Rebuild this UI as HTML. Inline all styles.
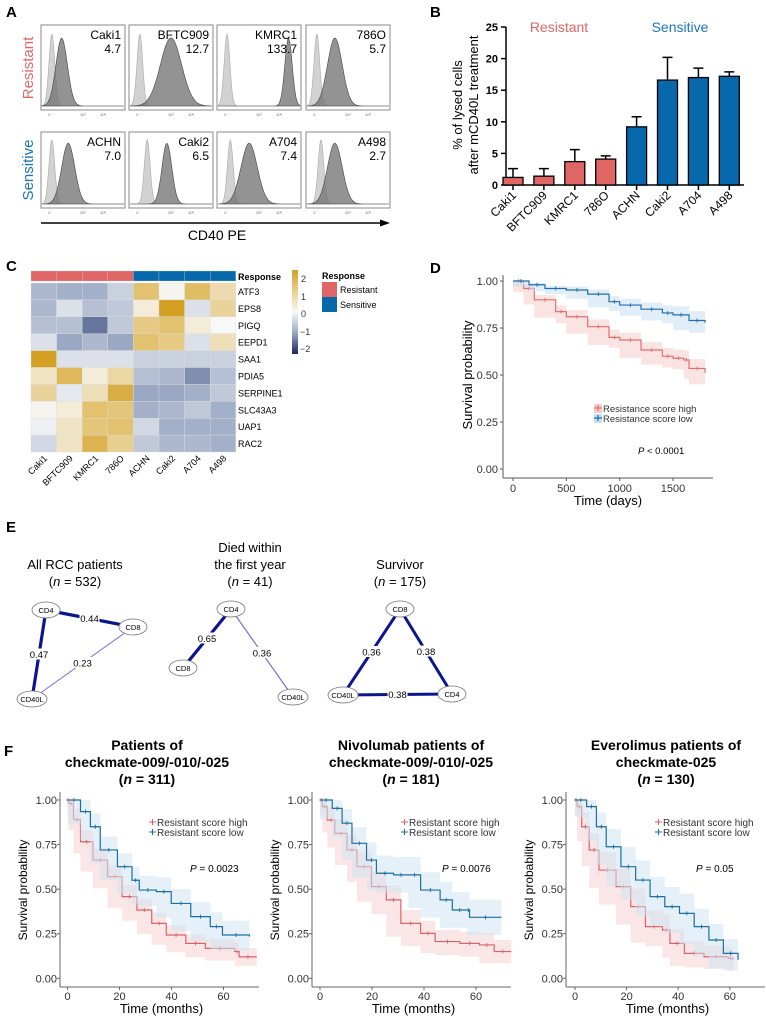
<!DOCTYPE html>
<html><head><meta charset="utf-8"><style>
html,body{margin:0;padding:0;background:#fff;}
svg{display:block;font-family:"Liberation Sans",Arial,sans-serif;}
.nar{font-family:"Liberation Sans Narrow","Liberation Sans",sans-serif;}
</style></head><body>
<svg id="fig" width="766" height="1017" viewBox="0 0 766 1017" xmlns="http://www.w3.org/2000/svg">
<defs>
<linearGradient id="cbar" x1="0" y1="0" x2="0" y2="1">
<stop offset="0" stop-color="#d4a024"/><stop offset="0.25" stop-color="#e8cf8f"/><stop offset="0.5" stop-color="#f8f8f8"/><stop offset="0.75" stop-color="#9aa8c4"/><stop offset="1" stop-color="#17285e"/>
</linearGradient>
</defs>
<!-- panel labels -->
<text x="6" y="17" font-size="15" font-weight="bold">A</text>
<text x="430" y="17" font-size="15" font-weight="bold">B</text>
<text x="6" y="271" font-size="15" font-weight="bold">C</text>
<text x="430" y="273" font-size="15" font-weight="bold">D</text>
<text x="6" y="532" font-size="15" font-weight="bold">E</text>
<text x="4" y="756" font-size="15" font-weight="bold">F</text>

<!-- Panel A static -->
<g id="panelA"></g>
<text transform="translate(33,68) rotate(-90)" text-anchor="middle" font-size="15" fill="#e06666">Resistant</text>
<text transform="translate(33,170) rotate(-90)" text-anchor="middle" font-size="15" fill="#1a75bc">Sensitive</text>
<line x1="41" y1="223" x2="383" y2="223" stroke="#000" stroke-width="1.5"/>
<polygon points="390,223 380,219.5 380,226.5" fill="#000"/>
<text x="217" y="240" text-anchor="middle" font-size="14">CD40 PE</text>

<!-- Panel B static -->
<g id="panelB"></g>
<text transform="translate(462,105) rotate(-90)" text-anchor="middle" font-size="13">% of lysed cells</text>
<text transform="translate(478,105) rotate(-90)" text-anchor="middle" font-size="13">after mCD40L treatment</text>
<text x="559" y="32" text-anchor="middle" font-size="14" fill="#e06666">Resistant</text>
<text x="680" y="32" text-anchor="middle" font-size="14" fill="#1a75bc">Sensitive</text>

<!-- Panel C -->
<g id="panelC"></g>
<text x="238" y="280" font-size="9" font-weight="bold">Response</text>
<rect x="292" y="270" width="6" height="84" fill="url(#cbar)"/>
<g font-size="9" fill="#333">
<text x="301" y="282">2</text><text x="301" y="300">1</text><text x="301" y="317">0</text><text x="300" y="335">−1</text><text x="300" y="352">−2</text>
</g>
<text x="322" y="279" font-size="9" font-weight="bold">Response</text>
<rect x="322" y="282" width="15" height="15" fill="#e06666"/>
<rect x="322" y="297" width="15" height="15" fill="#0868ac"/>
<text x="340" y="293" font-size="9">Resistant</text>
<text x="340" y="308" font-size="9">Sensitive</text>

<!-- Panel D -->
<g id="panelD"></g>

<!-- Panel E -->
<g id="panelE" font-size="13">
<text x="75" y="569" text-anchor="middle">All RCC patients</text>
<text x="75" y="586" text-anchor="middle">(<tspan font-style="italic">n</tspan> = 532)</text>
<text x="250" y="552" text-anchor="middle">Died within</text>
<text x="250" y="569" text-anchor="middle">the first year</text>
<text x="250" y="586" text-anchor="middle">(<tspan font-style="italic">n</tspan> =  41)</text>
<text x="400" y="569" text-anchor="middle">Survivor</text>
<text x="400" y="586" text-anchor="middle">(<tspan font-style="italic">n</tspan> = 175)</text>
</g>

<!-- Panel F -->
<g id="panelF"></g>
</svg>
<script>
const NS='http://www.w3.org/2000/svg';
function mk(tag,attrs,parent){const e=document.createElementNS(NS,tag);for(const k in attrs)e.setAttribute(k,attrs[k]);(parent||document.getElementById('fig')).appendChild(e);return e;}

/* ---------- Panel A data ---------- */
const aLines=['Caki1','BFTC909','KMRC1','786O','ACHN','Caki2','A704','A498'];
const aValues=['4.7','12.7','133.7','5.7','7.0','6.5','7.4','2.7'];
const aIsoPeak=[0.12,0.12,0.11,0.12,0.12,0.21,0.15,0.17];
const aStainPeak=[0.24,0.50,0.86,0.34,0.32,0.45,0.38,0.34];
const aStainWidth=[0.07,0.13,0.045,0.09,0.08,0.06,0.10,0.09];
(function(){
 const g=document.getElementById('panelA');
 const xs=[41,129,217,306], rows=[[25,85],[132,76]], w=84;
 for(let i=0;i<8;i++){
  const bx=xs[i%4], by=rows[Math.floor(i/4)][0], bh=rows[Math.floor(i/4)][1];
  const base=by+bh-4;
  const box=mk('rect',{x:bx,y:by,width:w,height:bh,fill:'#fff',stroke:'#888','stroke-width':1},g);
  
  
  function curve(c,s,hfrac){let d='M'+(bx+1)+','+base;for(let k=0;k<=80;k++){const f=k/80;const v=Math.exp(-Math.pow((f-c)/s,2)/2);d+=' L'+(bx+1+f*(w-2)).toFixed(1)+','+(base-v*bh*hfrac).toFixed(1);}return d+' L'+(bx+w-1)+','+base+' Z';}
  const iso=mk('path',{d:curve(aIsoPeak[i],0.035,0.85),fill:'#d2d2d2',stroke:'#aaa','stroke-width':0.6},g);
  
  
  const st=mk('path',{d:curve(aStainPeak[i],aStainWidth[i],0.8),fill:'#6f6f6f','fill-opacity':0.75,stroke:'#444','stroke-width':0.6},g);
  
  
  const t1=mk('text',{x:bx+w-4,y:by+14,'text-anchor':'end','font-size':12},g);t1.textContent=aLines[i];
  
  
  const t2=mk('text',{x:bx+w-4,y:by+28,'text-anchor':'end','font-size':12},g);t2.textContent=aValues[i];
  
  
  [['0',0.1],['10⁴',0.5],['10⁵',0.74]].forEach(function(p){const tt=mk('text',{x:bx+p[1]*w,y:by+bh+6,'font-size':4,fill:'#666','text-anchor':'middle'},g);tt.textContent=p[0];
   
   });
 }
})();

/* ---------- Panel B data ---------- */
const bCats=['Caki1','BFTC909','KMRC1','786O','ACHN','Caki2','A704','A498'];
const bMeans=[1.2,1.4,3.7,4.1,9.2,16.6,17.0,17.2];
const bErrTop=[2.6,2.6,5.6,4.6,10.8,20.2,18.5,17.9];
const bGroup=['R','R','R','R','S','S','S','S'];
const bTicks=[0,5,10,15,20,25];
(function(){
 const g=document.getElementById('panelB');
 const y=v=>185-v*(158/25);
 const xc=i=>513+i*30.9;
 mk('line',{x1:506,y1:y(25),x2:506,y2:186,stroke:'#000','stroke-width':1.5},g);
 mk('line',{x1:505,y1:185,x2:744,y2:185,stroke:'#000','stroke-width':1.5},g);
 bTicks.forEach(function(t){mk('line',{x1:501,y1:y(t),x2:506,y2:y(t),stroke:'#000','stroke-width':1.5},g);
  const tx=mk('text',{x:498,y:y(t)+4,'text-anchor':'end','font-size':11,'font-weight':'bold'},g);tx.textContent=t;
  
  });
 bCats.forEach(function(c,i){
  const col=bGroup[i]==='R'?'#e06666':'#0868ac';
  const eb=mk('path',{d:'M'+xc(i)+','+y(bMeans[i])+' V'+y(bErrTop[i])+' M'+(xc(i)-5)+','+y(bErrTop[i])+' H'+(xc(i)+5),stroke:'#000','stroke-width':1.5,fill:'none'},g);
  
  
  const r=mk('rect',{x:xc(i)-10,y:y(bMeans[i]),width:20,height:185-y(bMeans[i]),fill:col,stroke:'#000','stroke-width':1.3},g);
  
  
  mk('line',{x1:xc(i),y1:185,x2:xc(i),y2:190,stroke:'#000','stroke-width':1.5},g);
  const t=mk('text',{transform:'translate('+(xc(i)+4)+',196) rotate(-45)','text-anchor':'end','font-size':12},g);t.textContent=c;
  
  
 });
})();

/* ---------- Panel C data ---------- */
const cCols=['Caki1','BFTC909','KMRC1','786O','ACHN','Caki2','A704','A498'];
const cGroups=['R','R','R','R','S','S','S','S'];
const cGenes=['ATF3','EPS8','PIGQ','EEPD1','SAA1','PDIA5','SERPINE1','SLC43A3','UAP1','RAC2'];
const cRow0=[-0.8,-0.9,-0.9,-0.5,1.3,0.1,1.4,0.7];
const cRow1=[-0.8,-0.3,-0.7,-0.6,0.3,2.0,-0.3,0.9];
const cRow2=[-0.7,-0.7,-1.4,-0.6,1.1,1.3,0.3,0.0];
const cRow3=[-0.3,-1.0,-0.8,-1.0,1.3,1.1,-0.3,0.6];
const cRow4=[2.2,-0.3,-0.3,-0.3,-0.5,-0.5,-0.5,-0.5];
const cRow5=[0.5,1.5,0.3,0.8,-0.7,-0.8,-1.2,-0.7];
const cRow6=[0.9,-0.2,0.6,1.7,-1.0,-1.0,-0.9,-0.6];
const cRow7=[0.1,0.3,1.3,1.2,-0.9,-0.8,-0.6,-0.9];
const cRow8=[-0.1,0.5,1.2,1.3,-0.4,-0.9,-0.9,-0.9];
const cRow9=[-0.4,0.5,1.6,1.0,-0.6,-0.8,-0.8,-0.9];
const cMatrix=[cRow0,cRow1,cRow2,cRow3,cRow4,cRow5,cRow6,cRow7,cRow8,cRow9];
(function(){
 const g=document.getElementById('panelC');
 const stops=[[-2,[23,40,94]],[-1,[154,168,196]],[0,[248,248,248]],[1,[232,207,143]],[2,[212,160,36]]];
 function col(v){v=Math.max(-2,Math.min(2,v));for(let i=0;i<4;i++){const a=stops[i],b=stops[i+1];if(v<=b[0]){const f=(v-a[0])/(b[0]-a[0]);return 'rgb('+a[1].map((c,k)=>Math.round(c+(b[1][k]-c)*f)).join(',')+')';}}return 'rgb(212,160,36)';}
 const x0=31,cw=25.6,y0=283,rh=16.9;
 cCols.forEach(function(c,j){
  const a=mk('rect',{x:x0+j*cw,y:271,width:cw,height:10,fill:cGroups[j]==='R'?'#e06666':'#0868ac',stroke:'#ccc','stroke-width':0.3},g);
  
  
  const t=mk('text',{transform:'translate('+(x0+j*cw+cw/2+4)+','+(y0+10*rh+7)+') rotate(-45)','text-anchor':'end','font-size':9},g);t.textContent=c;
  
  
 });
 cGenes.forEach(function(gn,i){
  cMatrix[i].forEach(function(v,j){
   const r=mk('rect',{x:x0+j*cw,y:y0+i*rh,width:cw,height:rh,fill:col(v),stroke:'#ddd','stroke-width':0.4},g);
   
   
  });
  const t=mk('text',{x:238,y:y0+i*rh+rh/2+3.5,'font-size':9},g);t.textContent=gn;
  
  
 });
})();

/* ---------- KM helper ---------- */
function km(g,times,surv,lo,hi,xf,yf,color,band){
 let dl='M'+xf(times[0])+','+yf(hi[0]);
 for(let i=1;i<times.length;i++){dl+=' H'+xf(times[i])+' V'+yf(hi[i]);}
 for(let i=times.length-1;i>0;i--){dl+=' V'+yf(lo[i])+' H'+xf(times[i-1]);}
 dl+=' V'+yf(lo[0])+' Z';
 const b=mk('path',{d:dl,fill:band,'fill-opacity':0.55,stroke:'none'},g);
 
 
 let d='M'+xf(times[0])+','+yf(surv[0]);
 for(let i=1;i<times.length;i++){d+=' H'+xf(times[i])+' V'+yf(surv[i]);}
 const l=mk('path',{d:d,fill:'none',stroke:color,'stroke-width':1.2},g);
 
 
 for(let i=1;i<times.length;i++){
  const xm=(xf(times[i-1])+xf(times[i]))/2, ym=yf(surv[i-1]);
  const c=mk('path',{d:'M'+(xm-2)+','+ym+' H'+(xm+2)+' M'+xm+','+(ym-2)+' V'+(ym+2),stroke:color,'stroke-width':0.9},g);
  
  
 }
}

/* ---------- Panel D data ---------- */
const dTimesLow=[0,150,300,500,700,900,1000,1200,1400,1500,1650,1800];
const dSurvLow=[1.0,0.98,0.96,0.952,0.93,0.89,0.872,0.85,0.83,0.82,0.79,0.778];
const dLoLow=[1.0,0.97,0.945,0.93,0.905,0.86,0.84,0.815,0.79,0.775,0.74,0.725];
const dHiLow=[1.0,0.99,0.975,0.97,0.955,0.92,0.905,0.885,0.87,0.865,0.84,0.83];
const dTimesHigh=[0,100,200,400,500,700,900,1000,1200,1400,1500,1600,1650,1800];
const dSurvHigh=[1.0,0.96,0.9,0.837,0.81,0.757,0.70,0.686,0.633,0.60,0.589,0.58,0.535,0.512];
const dLoHigh=[1.0,0.94,0.875,0.805,0.775,0.72,0.66,0.645,0.59,0.555,0.54,0.53,0.48,0.45];
const dHiHigh=[1.0,0.98,0.925,0.87,0.845,0.795,0.74,0.725,0.675,0.645,0.635,0.63,0.585,0.57];
const dXTicks=[0,500,1000,1500];
const dYTicks=[0,0.25,0.5,0.75,1.0];
(function(){
 const g=document.getElementById('panelD');
 const xf=t=>513+t*0.1067, yf=s=>469-s*188;
 mk('line',{x1:503,y1:275,x2:503,y2:478,stroke:'#555','stroke-width':1},g);
 mk('line',{x1:503,y1:478,x2:713,y2:478,stroke:'#555','stroke-width':1},g);
 dYTicks.forEach(function(t){mk('line',{x1:500,y1:yf(t),x2:503,y2:yf(t),stroke:'#555'},g);
  const tx=mk('text',{x:498,y:yf(t)+4,'text-anchor':'end','font-size':11,fill:'#333'},g);tx.textContent=t.toFixed(2);
  
  });
 dXTicks.forEach(function(t){mk('line',{x1:xf(t),y1:478,x2:xf(t),y2:481,stroke:'#555'},g);
  const tx=mk('text',{x:xf(t),y:492,'text-anchor':'middle','font-size':11,fill:'#333'},g);tx.textContent=t;
  
  });
 km(g,dTimesHigh,dSurvHigh,dLoHigh,dHiHigh,xf,yf,'#e07070','#f6cccc');
 km(g,dTimesLow,dSurvLow,dLoLow,dHiLow,xf,yf,'#1f6fb0','#c9def0');
 const t1=mk('text',{x:608,y:505,'text-anchor':'middle','font-size':13},g);t1.textContent='Time (days)';
 
 
 const t2=mk('text',{transform:'translate(472,375) rotate(-90)','text-anchor':'middle','font-size':13},g);t2.textContent='Survival probability';
 
 
 [['Resistance score high','#e07070',412],['Resistance score low','#1f6fb0',422]].forEach(function(L){
  mk('rect',{x:594,y:L[2]-8,width:8,height:9,fill:L[1]==='#e07070'?'#f6cccc':'#c9def0'},g);
  mk('path',{d:'M594,'+(L[2]-4)+' H602 M598,'+(L[2]-7)+' V'+(L[2]-1),stroke:L[1],'stroke-width':1.2},g);
  const t=mk('text',{x:603,y:L[2],'font-size':9.5,fill:'#333'},g);t.textContent=L[0];
  
  
 });
 const p=mk('text',{x:638,y:454,'font-size':9.5},g);p.innerHTML='<tspan font-style="italic">P</tspan> &lt; 0.0001';
 
 
})();

/* ---------- Panel E data ---------- */
const eNodes1=[['CD4',46,610],['CD8',133,627],['CD40L',32,699]];
const eEdges1=[[0,1,0.44],[0,2,0.47],[1,2,0.23]];
const eNodes2=[['CD4',231,609],['CD8',183,668],['CD40L',293,697]];
const eEdges2=[[0,1,0.65],[0,2,0.36]];
const eNodes3=[['CD8',400,609],['CD40L',343,695],['CD4',452,694]];
const eEdges3=[[0,1,0.36],[0,2,0.38],[1,2,0.38]];
(function(){
 const g=document.getElementById('panelE');
 [[eNodes1,eEdges1,[3.2,3.2,1]],[eNodes2,eEdges2,[3.2,1.2]],[eNodes3,eEdges3,[3,3,3]]].forEach(function(N){
  const nodes=N[0],edges=N[1],wid=N[2];
  edges.forEach(function(e,k){
   const a=nodes[e[0]],b=nodes[e[1]];
   const thin=wid[k]<2;
   const l=mk('line',{x1:a[1],y1:a[2],x2:b[1],y2:b[2],stroke:thin?'#6f72d8':'#0a1590','stroke-width':wid[k]},g);
   
   
   const mx=(a[1]+b[1])/2,my=(a[2]+b[2])/2;
   mk('rect',{x:mx-10,y:my-6,width:20,height:11,fill:'#fff'},g);
   const t=mk('text',{x:mx,y:my+3.5,'text-anchor':'middle','font-size':9.5},g);t.textContent=e[2].toFixed(2);
   
   
  });
  nodes.forEach(function(n){
   const el=mk('ellipse',{cx:n[1],cy:n[2],rx:n[0]==='CD40L'?15:14,ry:8,fill:'#fff',stroke:'#777','stroke-width':0.8},g);
   
   
   const t=mk('text',{x:n[1],y:n[2]+3,'text-anchor':'middle','font-size':7.5},g);t.textContent=n[0];
   
   
  });
 });
})();

/* ---------- Panel F data ---------- */
const fTitles1=['Patients of','checkmate-009/-010/-025','311'];
const fTitles2=['Nivolumab patients of','checkmate-009/-010/-025','181'];
const fTitles3=['Everolimus patients of','checkmate-025','130'];
const fPvals=['0.0023','0.0076','0.05'];
const fXTicks=[0,20,40,60];
const fYTicks=[0,0.25,0.5,0.75,1.0];
const f1TLow=[0,5,8.8,12.6,19.2,24.8,27.6,34.2,39.9,47.4,54.9,59.6,70];
const f1SLow=[1,0.935,0.85,0.72,0.626,0.55,0.495,0.486,0.42,0.346,0.29,0.243,0.234];
const f1TLowCI=[0.07,0.07,0.075,0.075,0.075,0.075,0.08,0.08,0.08,0.08,0.08,0.08,0.08];
const f1THigh=[0,0.4,2.3,5,9.8,15.4,21,26.7,32.4,38,45.5,53,64.3,66,72.8];
const f1SHigh=[1,0.98,0.89,0.766,0.663,0.57,0.458,0.383,0.308,0.243,0.196,0.168,0.15,0.12,0.12];
const f1THighCI=[0.02,0.04,0.06,0.065,0.065,0.065,0.065,0.06,0.06,0.055,0.05,0.05,0.05,0.05,0.05];
const f2TLow=[0,4.7,8.5,12.3,17.9,21.7,28.3,34,38.7,46.2,50.9,56.6,57.5,69.8];
const f2SLow=[1,0.953,0.87,0.757,0.663,0.589,0.58,0.58,0.495,0.44,0.383,0.383,0.342,0.342];
const f2TLowCI=[0.05,0.06,0.08,0.09,0.1,0.1,0.1,0.1,0.1,0.1,0.1,0.1,0.1,0.1];
const f2THigh=[0,0.9,2.8,5.7,10.4,14.2,19.8,25.5,31.1,38.7,44.3,53.8,61.3,67,73.6];
const f2SHigh=[1,0.963,0.888,0.813,0.72,0.626,0.514,0.44,0.308,0.252,0.206,0.196,0.187,0.15,0.15];
const f2THighCI=[0.03,0.05,0.07,0.08,0.085,0.085,0.085,0.08,0.075,0.07,0.065,0.065,0.065,0.065,0.065];
const f3TLow=[0,4.5,8.3,12.1,17.8,23.5,29.1,34.8,40.5,46.2,51.9,57.5,63.2];
const f3SLow=[1,0.963,0.85,0.738,0.626,0.551,0.458,0.402,0.364,0.29,0.215,0.14,0.103];
const f3TLowCI=[0.04,0.06,0.08,0.1,0.11,0.11,0.11,0.11,0.11,0.1,0.09,0.08,0.06];
const f3THigh=[0,0.8,2.6,5.5,9.3,15.9,21.6,27.3,33.9,36.8,42.4,50,59.4,61.3];
const f3SHigh=[1,0.963,0.85,0.72,0.607,0.514,0.402,0.29,0.271,0.196,0.14,0.121,0.112,0.103];
const f3THighCI=[0.03,0.05,0.08,0.09,0.1,0.1,0.1,0.09,0.09,0.08,0.07,0.06,0.06,0.06];
(function(){
 const g=document.getElementById('panelF');
 const panels=[
  {ax:60,x0:67.5,pm:2.6,xr:259,cx:147,ti:fTitles1,low:[f1TLow,f1SLow,f1TLowCI],high:[f1THigh,f1SHigh,f1THighCI]},
  {ax:312,x0:320,pm:2.6,xr:511,cx:411,ti:fTitles2,low:[f2TLow,f2SLow,f2TLowCI],high:[f2THigh,f2SHigh,f2THighCI]},
  {ax:566,x0:575,pm:2.58,xr:765,cx:666,ti:fTitles3,low:[f3TLow,f3SLow,f3TLowCI],high:[f3THigh,f3SHigh,f3THighCI]}];
 panels.forEach(function(P,pi){
  const xf=t=>P.x0+t*P.pm, yf=s=>978.3-s*178.3;
  const tt=[P.ti[0],P.ti[1]];
  tt.forEach(function(s,k){const t=mk('text',{x:P.cx,y:750+k*17,'text-anchor':'middle','font-size':14,'font-weight':'bold','class':'nar'},g);t.textContent=s;
   
   });
  const tn=mk('text',{x:P.cx,y:784,'text-anchor':'middle','font-size':14,'font-weight':'bold','class':'nar'},g);
  tn.innerHTML='(<tspan font-style="italic">n</tspan> = '+P.ti[2]+')';
  
  
  mk('line',{x1:P.ax,y1:792,x2:P.ax,y2:987,stroke:'#666'},g);
  mk('line',{x1:P.ax,y1:987,x2:P.xr,y2:987,stroke:'#666'},g);
  fYTicks.forEach(function(t){mk('line',{x1:P.ax-3,y1:yf(t),x2:P.ax,y2:yf(t),stroke:'#666'},g);
   const tx=mk('text',{x:P.ax-3,y:yf(t)+4,'text-anchor':'end','font-size':11,fill:'#333','class':'nar'},g);tx.textContent=t.toFixed(2);
   
   });
  fXTicks.forEach(function(t){mk('line',{x1:xf(t),y1:987,x2:xf(t),y2:990,stroke:'#666'},g);
   const tx=mk('text',{x:xf(t),y:1000,'text-anchor':'middle','font-size':11,fill:'#333','class':'nar'},g);tx.textContent=t;
   
   });
  function ci(arr,sign){return arr[1].map((s,i)=>Math.max(0,Math.min(1,s+sign*arr[2][i])));}
  km(g,P.high[0],P.high[1],ci(P.high,-1),ci(P.high,1),xf,yf,'#d9636a','#f8d2d4');
  km(g,P.low[0],P.low[1],ci(P.low,-1),ci(P.low,1),xf,yf,'#1f6fa0','#cfe3f2');
  const xt=mk('text',{x:(P.ax+P.xr)/2+2,y:1013,'text-anchor':'middle','font-size':13,'class':'nar'},g);xt.textContent='Time (months)';
  
  
  const yt=mk('text',{transform:'translate('+(P.ax-33)+',890) rotate(-90)','text-anchor':'middle','font-size':12},g);yt.textContent='Survival probability';
  
  
  const lx=P.ax+89;
  [['Resistant score high','#d9636a',826],['Resistant score low','#1f6fa0',836]].forEach(function(L){
   mk('path',{d:'M'+lx+','+(L[2]-4)+' H'+(lx+7)+' M'+(lx+3.5)+','+(L[2]-7)+' V'+(L[2]-1),stroke:L[1],'stroke-width':1.1},g);
   const t=mk('text',{x:lx+8,y:L[2],'font-size':10,fill:'#333','class':'nar'},g);t.textContent=L[0];
   
   
  });
  const p=mk('text',{x:P.ax+130,y:872,'font-size':10,'class':'nar'},g);p.innerHTML='<tspan font-style="italic">P</tspan> = '+fPvals[pi];
  
  
 });
})();
</script>
</body></html>
